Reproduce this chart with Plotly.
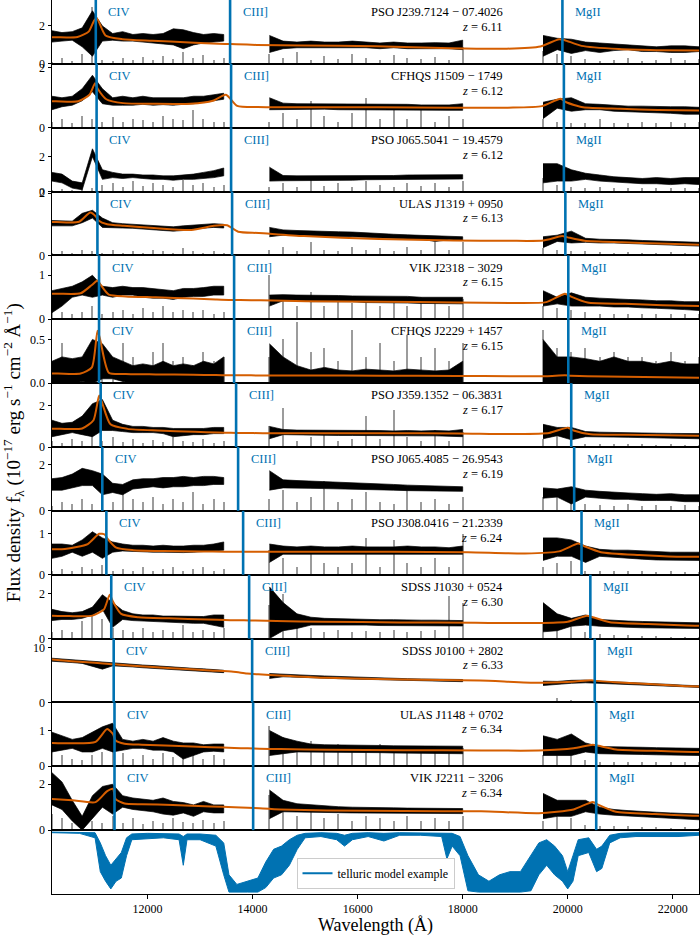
import plotly.graph_objects as go
from plotly.subplots import make_subplots

# quasar names and redshifts, top to bottom
NAMES = ["PSO J239.7124 − 07.4026", "CFHQS J1509 − 1749", "PSO J065.5041 − 19.4579",
         "ULAS J1319 + 0950", "VIK J2318 − 3029", "CFHQS J2229 + 1457",
         "PSO J359.1352 − 06.3831", "PSO J065.4085 − 26.9543", "PSO J308.0416 − 21.2339",
         "SDSS J1030 + 0524", "SDSS J0100 + 2802", "ULAS J1148 + 0702", "VIK J2211 − 3206"]
REDSHIFTS = [6.11, 6.12, 6.12, 6.13, 6.15, 6.15, 6.17, 6.19, 6.24, 6.30, 6.33, 6.34, 6.34]
YMAX = [3.37, 2.13, 3.66, 2.05, 1.45, 0.73, 3.1, 2.78, 1.56, 2.84, 11.7, 1.78, 2.78]
YTICKS = [[0, 2], [0, 2], [0, 2], [0, 2], [0, 1], [0, 0.5], [0, 2], [0, 2], [0, 1],
          [0, 2], [0, 10], [0, 1], [0, 2]]

# emission lines (rest frame, Angstrom)
LINE_NAMES = ["CIV", "CIII]", "MgII"]
LINE_REST = [1549.06, 1908.73, 2798.75]

# observed wavelength nodes of the three spectral windows (Angstrom)
GRID_A = [10180, 10370, 10565, 10755, 10950, 11140, 11335, 11525, 11720, 11910, 12105,
          12295, 12490, 12680, 12875, 13065, 13260, 13450]
GRID_B = [14320, 14580, 14845, 15110, 15370, 15635, 15900, 16160, 16425, 16685, 16950,
          17210, 17475, 17740, 18000]
GRID_C = [19530, 19800, 20070, 20340, 20610, 20880, 21150, 21420, 21690, 21960, 22230, 22500]

# lower / upper envelope of the observed flux in each window
LO_A = [
    [1.15, 1.2, 1.25, 0.9, 0.4, 1.2, 1.25, 1.2, 1.2, 1.15, 1.1, 1.05, 1.0, 0.8, 1.0, 1.1, 1.15, 1.2],
    [0.6, 0.7, 0.75, 0.9, 1.2, 0.8, 0.75, 0.75, 0.75, 0.78, 0.75, 0.77, 0.75, 0.78, 0.8, 0.85, 0.9, 0.95],
    [0.6, 0.5, 0.2, 0.1, 2.0, 0.7, 0.8, 0.75, 0.8, 0.75, 0.7, 0.7, 0.65, 0.7, 0.7, 0.75, 0.8, 0.9],
    [0.95, 0.95, 0.95, 1.05, 1.2, 0.9, 0.9, 0.88, 0.87, 0.85, 0.83, 0.8, 0.78, 0.8, 0.85, 0.88, 0.9, 0.88],
    [0.15, 0.3, 0.5, 0.55, 0.5, 0.55, 0.5, 0.55, 0.55, 0.5, 0.48, 0.48, 0.45, 0.5, 0.52, 0.52, 0.55, 0.55],
    [0.0, 0.0, 0.0, 0.02, 0.0, 0.05, 0.05, 0.02, 0.0, 0.0, 0.0, 0.0, 0.0, 0.0, 0.0, 0.0, 0.0, 0.0],
    [0.5, 0.6, 0.7, 0.6, 0.5, 0.8, 0.8, 0.75, 0.7, 0.7, 0.7, 0.65, 0.5, 0.55, 0.6, 0.6, 0.65, 0.65],
    [0.9, 0.9, 1.0, 1.1, 1.1, 0.7, 0.8, 0.7, 0.95, 1.0, 1.05, 1.0, 1.05, 1.05, 1.1, 1.1, 1.15, 1.15],
    [0.4, 0.45, 0.55, 0.45, 0.55, 0.4, 0.55, 0.58, 0.57, 0.56, 0.55, 0.55, 0.55, 0.54, 0.55, 0.56, 0.58, 0.6],
    [0.8, 0.85, 0.85, 0.9, 1.05, 1.3, 0.5, 0.85, 0.8, 0.78, 0.75, 0.72, 0.7, 0.7, 0.68, 0.68, 0.6, 0.5],
    [7.55, 7.45, 7.3, 7.15, 6.6, 6.1, 6.7, 6.6, 6.5, 6.35, 6.25, 6.1, 6.0, 5.9, 5.8, 5.65, 5.55, 5.45],
    [0.4, 0.45, 0.5, 0.4, 0.4, 0.5, 0.4, 0.45, 0.5, 0.5, 0.45, 0.45, 0.4, 0.2, 0.3, 0.4, 0.42, 0.4],
    [1.1, 0.9, 0.4, 0.0, 0.5, 1.0, 0.7, 1.0, 0.9, 0.85, 0.8, 0.7, 0.65, 0.75, 0.6, 0.8, 0.75, 0.75],
]
HI_A = [
    [1.75, 1.65, 1.7, 1.9, 2.8, 2.0, 1.6, 1.7, 1.55, 1.6, 1.55, 1.6, 1.85, 1.8, 1.65, 1.55, 1.6, 1.55],
    [1.05, 1.0, 1.05, 1.3, 1.75, 1.3, 1.0, 1.05, 1.0, 1.05, 1.0, 1.0, 1.0, 1.0, 1.05, 1.05, 1.1, 1.15],
    [1.1, 1.0, 0.6, 0.5, 2.45, 1.25, 1.1, 1.0, 1.0, 0.95, 0.95, 0.9, 0.9, 0.95, 1.0, 1.1, 1.2, 1.35],
    [1.12, 1.1, 1.1, 1.35, 1.45, 1.2, 1.05, 1.02, 1.0, 0.98, 0.96, 0.93, 0.92, 0.95, 0.98, 1.0, 1.02, 1.0],
    [0.65, 0.7, 0.75, 0.85, 1.0, 0.75, 0.72, 0.75, 0.72, 0.72, 0.7, 0.68, 0.65, 0.7, 0.7, 0.72, 0.75, 0.75],
    [0.25, 0.3, 0.28, 0.3, 0.5, 0.45, 0.3, 0.25, 0.2, 0.22, 0.2, 0.25, 0.2, 0.22, 0.2, 0.25, 0.22, 0.3],
    [1.3, 1.15, 1.2, 1.5, 2.1, 2.3, 1.3, 1.1, 1.0, 1.0, 0.95, 0.95, 0.9, 0.9, 0.9, 0.9, 0.95, 0.95],
    [1.4, 1.45, 1.6, 1.85, 1.75, 1.6, 1.2, 1.15, 1.35, 1.4, 1.4, 1.45, 1.45, 1.5, 1.45, 1.5, 1.5, 1.45],
    [0.75, 0.75, 0.72, 0.85, 1.05, 0.9, 0.8, 0.75, 0.72, 0.72, 0.7, 0.72, 0.7, 0.7, 0.72, 0.72, 0.75, 0.8],
    [1.3, 1.2, 1.15, 1.2, 1.4, 1.95, 1.6, 1.25, 1.1, 1.05, 1.05, 1.0, 1.0, 1.0, 0.98, 0.98, 1.05, 1.05],
    [8.1, 7.95, 7.8, 7.65, 7.55, 7.45, 7.25, 7.1, 7.0, 6.85, 6.75, 6.6, 6.5, 6.35, 6.25, 6.15, 6.0, 5.9],
    [0.95, 0.85, 0.75, 0.8, 0.95, 1.1, 1.2, 0.75, 0.7, 0.75, 0.7, 0.8, 0.7, 0.65, 0.65, 0.6, 0.62, 0.62],
    [2.5, 2.1, 1.3, 0.6, 1.5, 1.9, 2.0, 1.5, 1.4, 1.35, 1.3, 1.4, 1.25, 1.2, 1.1, 1.25, 1.1, 1.1],
]
LO_B = [
    [0.6, 0.8, 0.85, 0.85, 0.85, 0.85, 0.85, 0.85, 0.8, 0.85, 0.8, 0.8, 0.8, 0.8, 0.75],
    [0.6, 0.62, 0.62, 0.62, 0.62, 0.6, 0.6, 0.6, 0.6, 0.6, 0.6, 0.6, 0.58, 0.58, 0.58],
    [0.6, 0.62, 0.65, 0.65, 0.65, 0.65, 0.65, 0.68, 0.68, 0.68, 0.7, 0.7, 0.7, 0.72, 0.72],
    [0.6, 0.65, 0.64, 0.63, 0.62, 0.6, 0.6, 0.58, 0.56, 0.55, 0.53, 0.52, 0.45, 0.5, 0.48],
    [0.3, 0.42, 0.42, 0.4, 0.4, 0.4, 0.4, 0.38, 0.38, 0.37, 0.37, 0.36, 0.36, 0.35, 0.35],
    [0.0, 0.0, 0.0, 0.0, 0.0, 0.0, 0.0, 0.0, 0.0, 0.0, 0.0, 0.0, 0.0, 0.0, 0.0],
    [0.4, 0.6, 0.58, 0.58, 0.57, 0.56, 0.56, 0.55, 0.55, 0.55, 0.55, 0.54, 0.54, 0.53, 0.5],
    [0.9, 1.0, 1.0, 0.98, 0.97, 0.95, 0.95, 0.93, 0.92, 0.9, 0.88, 0.87, 0.86, 0.85, 0.85],
    [0.3, 0.5, 0.5, 0.5, 0.5, 0.5, 0.5, 0.5, 0.5, 0.5, 0.5, 0.5, 0.5, 0.5, 0.5],
    [0.0, 0.35, 0.45, 0.6, 0.6, 0.6, 0.6, 0.6, 0.58, 0.58, 0.58, 0.58, 0.58, 0.56, 0.56],
    [4.4, 4.7, 4.65, 4.55, 4.45, 4.35, 4.25, 4.15, 4.1, 4.05, 4.0, 3.95, 3.9, 3.85, 3.8],
    [0.3, 0.35, 0.4, 0.4, 0.4, 0.4, 0.38, 0.38, 0.38, 0.37, 0.37, 0.36, 0.36, 0.35, 0.35],
    [0.5, 0.8, 0.8, 0.78, 0.77, 0.76, 0.75, 0.75, 0.74, 0.74, 0.73, 0.73, 0.72, 0.72, 0.72],
]
HI_B = [
    [1.5, 1.2, 1.15, 1.2, 1.15, 1.15, 1.2, 1.15, 1.1, 1.15, 1.1, 1.1, 1.12, 1.1, 1.25],
    [1.0, 0.82, 0.8, 0.8, 0.8, 0.8, 0.78, 0.78, 0.78, 0.78, 0.78, 0.76, 0.76, 0.76, 0.8],
    [1.4, 0.92, 0.9, 0.9, 0.9, 0.88, 0.9, 0.9, 0.92, 0.92, 0.95, 0.95, 0.95, 0.97, 0.97],
    [0.9, 0.82, 0.8, 0.78, 0.78, 0.76, 0.75, 0.72, 0.7, 0.68, 0.66, 0.64, 0.62, 0.62, 0.6],
    [0.55, 0.56, 0.55, 0.55, 0.54, 0.54, 0.53, 0.53, 0.52, 0.52, 0.52, 0.5, 0.5, 0.5, 0.5],
    [0.45, 0.3, 0.2, 0.15, 0.18, 0.15, 0.14, 0.16, 0.15, 0.14, 0.16, 0.15, 0.14, 0.15, 0.25],
    [1.0, 0.85, 0.82, 0.82, 0.82, 0.8, 0.8, 0.8, 0.8, 0.78, 0.8, 0.78, 0.8, 0.78, 0.85],
    [1.75, 1.35, 1.32, 1.3, 1.28, 1.25, 1.22, 1.2, 1.18, 1.15, 1.12, 1.1, 1.08, 1.05, 1.05],
    [0.75, 0.7, 0.68, 0.7, 0.68, 0.68, 0.7, 0.68, 0.68, 0.68, 0.7, 0.68, 0.68, 0.66, 0.7],
    [2.3, 1.6, 1.1, 0.95, 0.9, 0.88, 0.85, 0.85, 0.84, 0.84, 0.82, 0.82, 0.82, 0.8, 0.8],
    [5.3, 5.15, 5.05, 4.95, 4.85, 4.75, 4.65, 4.55, 4.45, 4.4, 4.35, 4.3, 4.25, 4.2, 4.2],
    [1.0, 0.8, 0.7, 0.62, 0.6, 0.6, 0.58, 0.58, 0.58, 0.57, 0.57, 0.56, 0.56, 0.56, 0.56],
    [1.75, 1.3, 1.15, 1.1, 1.05, 1.02, 1.0, 1.0, 0.98, 0.97, 0.96, 0.95, 0.95, 0.94, 0.94],
]
LO_C = [
    [0.4, 0.75, 0.55, 0.7, 0.6, 0.7, 0.75, 0.65, 0.65, 0.6, 0.6, 0.65],
    [0.3, 0.65, 0.55, 0.6, 0.6, 0.55, 0.55, 0.52, 0.5, 0.48, 0.45, 0.45],
    [0.5, 0.6, 0.6, 0.7, 0.6, 0.55, 0.5, 0.45, 0.45, 0.4, 0.45, 0.4],
    [0.25, 0.45, 0.4, 0.42, 0.4, 0.4, 0.38, 0.36, 0.35, 0.33, 0.32, 0.3],
    [0.3, 0.35, 0.3, 0.3, 0.3, 0.28, 0.28, 0.26, 0.25, 0.24, 0.22, 0.2],
    [0.0, 0.0, 0.0, 0.0, 0.0, 0.0, 0.0, 0.0, 0.0, 0.0, 0.0, 0.0],
    [0.4, 0.55, 0.35, 0.5, 0.5, 0.48, 0.47, 0.46, 0.45, 0.43, 0.42, 0.4],
    [0.55, 0.6, 0.3, 0.6, 0.55, 0.5, 0.5, 0.45, 0.45, 0.45, 0.4, 0.4],
    [0.35, 0.45, 0.45, 0.3, 0.45, 0.42, 0.4, 0.38, 0.36, 0.35, 0.35, 0.35],
    [0.3, 0.35, 0.55, 0.6, 0.55, 0.52, 0.5, 0.48, 0.47, 0.46, 0.45, 0.45],
    [3.1, 3.3, 3.5, 3.6, 3.5, 3.4, 3.3, 3.2, 3.05, 2.95, 2.85, 2.75],
    [0.3, 0.3, 0.3, 0.4, 0.35, 0.35, 0.34, 0.33, 0.32, 0.31, 0.3, 0.3],
    [0.5, 0.6, 0.6, 0.8, 0.7, 0.65, 0.6, 0.58, 0.55, 0.5, 0.48, 0.45],
]
HI_C = [
    [1.5, 1.35, 1.3, 1.15, 1.1, 1.05, 1.0, 0.95, 0.9, 0.95, 0.95, 0.9],
    [0.85, 0.95, 1.0, 0.8, 0.78, 0.75, 0.72, 0.72, 0.7, 0.7, 0.7, 0.68],
    [1.6, 1.6, 1.25, 1.05, 0.95, 0.85, 0.8, 0.75, 0.8, 0.75, 0.8, 0.8],
    [0.6, 0.65, 0.78, 0.55, 0.52, 0.52, 0.5, 0.48, 0.46, 0.45, 0.44, 0.42],
    [0.65, 0.5, 0.6, 0.5, 0.48, 0.46, 0.45, 0.44, 0.42, 0.42, 0.4, 0.4],
    [0.5, 0.3, 0.3, 0.28, 0.25, 0.3, 0.25, 0.25, 0.22, 0.25, 0.22, 0.22],
    [1.1, 0.95, 0.95, 0.75, 0.72, 0.7, 0.7, 0.68, 0.67, 0.66, 0.65, 0.65],
    [1.0, 0.95, 1.05, 0.9, 0.85, 0.8, 0.78, 0.75, 0.72, 0.75, 0.7, 0.7],
    [0.9, 0.9, 0.85, 0.7, 0.62, 0.6, 0.6, 0.58, 0.56, 0.55, 0.55, 0.55],
    [1.6, 1.1, 0.9, 1.05, 0.85, 0.8, 0.78, 0.76, 0.75, 0.72, 0.7, 0.7],
    [3.9, 3.85, 4.05, 4.1, 3.9, 3.8, 3.7, 3.55, 3.4, 3.3, 3.15, 3.05],
    [0.85, 0.75, 0.9, 0.65, 0.55, 0.55, 0.54, 0.53, 0.52, 0.51, 0.5, 0.5],
    [1.6, 1.3, 1.3, 1.3, 1.0, 0.9, 0.85, 0.8, 0.78, 0.75, 0.72, 0.7],
]

# flux uncertainty (grey)
ERR_A = [
    [0.1, 0.3, 0.15, 0.5, 3.0, 0.2, 0.15, 0.3, 0.2, 0.35, 0.2, 0.4, 0.25, 0.6, 0.3, 0.45, 0.2, 0.3],
    [0.2, 0.3, 0.15, 0.4, 0.3, 0.2, 0.35, 0.2, 0.3, 0.25, 0.2, 0.4, 0.3, 0.25, 0.6, 0.3, 0.2, 0.2],
    [0.1, 0.15, 0.1, 0.3, 0.2, 0.4, 0.5, 0.3, 0.6, 0.35, 0.5, 0.4, 0.3, 0.7, 0.4, 0.5, 0.3, 0.4],
    [0.1, 0.15, 0.1, 0.2, 0.15, 0.1, 0.2, 0.1, 0.15, 0.1, 0.2, 0.15, 0.1, 0.25, 0.15, 0.1, 0.15, 0.1],
    [0.25, 0.15, 0.1, 0.15, 0.3, 0.1, 0.15, 0.2, 0.1, 0.25, 0.15, 0.3, 0.15, 0.2, 0.15, 0.2, 0.1, 0.15],
    [0.2, 0.45, 0.25, 0.3, 0.2, 0.35, 0.25, 0.45, 0.3, 0.2, 0.35, 0.45, 0.25, 0.3, 0.2, 0.35, 0.25, 0.3],
    [0.3, 0.2, 0.4, 0.3, 0.8, 0.3, 0.5, 0.25, 0.4, 0.2, 0.35, 0.25, 0.5, 0.3, 0.25, 0.4, 0.2, 0.3],
    [0.2, 0.4, 0.3, 0.5, 0.3, 0.6, 0.4, 0.9, 0.5, 0.4, 0.6, 0.3, 0.5, 0.4, 0.8, 0.3, 0.5, 0.4],
    [0.1, 0.15, 0.1, 0.2, 0.15, 0.25, 0.1, 0.15, 0.1, 0.2, 0.1, 0.15, 0.2, 0.1, 0.15, 0.2, 0.1, 0.15],
    [0.3, 0.4, 0.3, 0.8, 1.2, 0.9, 0.5, 0.4, 0.3, 0.5, 0.3, 0.4, 0.3, 0.6, 0.3, 0.4, 0.3, 0.5],
    [0.2, 0.1, 0.15, 0.1, 0.2, 0.15, 0.1, 0.15, 0.1, 0.2, 0.1, 0.15, 0.1, 0.15, 0.1, 0.2, 0.1, 0.15],
    [0.45, 0.3, 0.2, 0.15, 0.3, 0.4, 0.5, 0.35, 0.2, 0.3, 0.2, 0.35, 0.25, 0.4, 0.3, 0.2, 0.3, 0.2],
    [0.7, 0.5, 0.3, 0.2, 0.4, 0.3, 0.6, 0.3, 0.5, 0.25, 0.4, 0.3, 0.5, 0.35, 0.3, 0.45, 0.3, 0.4],
]
ERR_B = [
    [0.5, 0.3, 0.6, 0.2, 0.4, 0.25, 0.5, 0.3, 0.2, 0.45, 0.3, 0.25, 0.35, 0.2, 0.9],
    [0.2, 0.5, 0.3, 0.9, 0.4, 0.2, 0.5, 1.0, 0.3, 0.6, 0.3, 0.65, 0.2, 0.4, 0.3],
    [0.3, 0.5, 0.3, 0.7, 0.35, 0.5, 0.3, 0.6, 0.4, 0.3, 0.5, 0.35, 0.5, 0.3, 0.6],
    [0.2, 0.3, 0.15, 0.45, 0.2, 0.15, 0.3, 0.2, 0.25, 0.15, 0.3, 0.2, 0.45, 0.2, 0.45],
    [1.0, 0.4, 0.3, 0.6, 0.3, 0.5, 0.35, 0.4, 0.3, 0.45, 0.3, 0.5, 0.4, 0.3, 0.45],
    [0.3, 0.5, 0.7, 0.35, 0.4, 0.25, 0.6, 0.3, 0.45, 0.25, 0.55, 0.3, 0.4, 0.25, 0.45],
    [1.0, 1.9, 0.3, 0.5, 0.6, 0.3, 0.4, 1.5, 0.4, 1.8, 0.5, 0.3, 0.8, 0.3, 0.7],
    [0.5, 0.9, 0.4, 0.6, 1.3, 0.4, 0.5, 0.8, 0.4, 0.3, 0.9, 0.4, 0.5, 0.3, 0.6],
    [0.6, 0.4, 0.2, 0.5, 0.3, 0.2, 0.3, 0.9, 0.2, 0.85, 0.3, 0.2, 0.4, 0.2, 1.0],
    [1.5, 2.0, 0.9, 0.5, 0.3, 0.4, 0.3, 0.35, 0.3, 0.4, 0.3, 0.35, 0.4, 1.9, 1.6],
    [0.3, 0.15, 0.2, 0.15, 0.25, 0.15, 0.2, 0.15, 0.2, 0.15, 0.2, 0.15, 0.2, 0.15, 0.3],
    [1.1, 0.8, 0.5, 0.7, 0.4, 0.6, 0.5, 0.45, 0.6, 0.4, 0.5, 0.4, 0.55, 0.35, 0.5],
    [1.5, 0.9, 0.6, 1.0, 0.5, 0.7, 0.4, 0.6, 0.5, 0.4, 0.6, 0.4, 0.5, 0.4, 0.6],
]
ERR_C = [
    [0.7, 0.5, 0.4, 0.25, 0.15, 0.2, 0.3, 0.15, 0.2, 0.3, 0.2, 0.25],
    [0.3, 0.2, 0.15, 0.15, 0.3, 0.15, 0.15, 0.2, 0.15, 0.2, 0.15, 0.2],
    [0.8, 0.4, 0.3, 0.2, 0.3, 0.2, 0.2, 0.25, 0.2, 0.25, 0.2, 0.25],
    [0.25, 0.2, 0.15, 0.15, 0.12, 0.1, 0.12, 0.1, 0.1, 0.12, 0.1, 0.1],
    [0.3, 0.25, 0.2, 0.15, 0.12, 0.12, 0.1, 0.12, 0.1, 0.1, 0.12, 0.1],
    [0.6, 0.4, 0.35, 0.4, 0.3, 0.35, 0.3, 0.3, 0.25, 0.35, 0.25, 0.3],
    [0.4, 0.6, 0.3, 0.15, 0.15, 0.12, 0.12, 0.12, 0.1, 0.12, 0.1, 0.1],
    [0.6, 0.8, 0.5, 0.3, 0.25, 0.2, 0.3, 0.2, 0.25, 0.2, 0.25, 0.2],
    [0.2, 0.3, 0.35, 0.1, 0.1, 0.1, 0.1, 0.1, 0.08, 0.1, 0.08, 0.08],
    [0.7, 0.9, 0.6, 0.3, 0.2, 0.15, 0.15, 0.12, 0.12, 0.1, 0.1, 0.1],
    [0.4, 0.8, 0.6, 0.2, 0.15, 0.15, 0.15, 0.1, 0.1, 0.1, 0.1, 0.1],
    [0.3, 0.35, 0.85, 0.15, 0.12, 0.12, 0.1, 0.12, 0.1, 0.12, 0.1, 0.1],
    [0.4, 0.6, 0.5, 0.2, 0.15, 0.15, 0.15, 0.12, 0.12, 0.1, 0.12, 0.1],
]

# quasar model fits (orange), on rest-frame wavelength nodes
REST_GRID = [1380, 1440, 1500, 1530, 1545, 1552, 1575, 1620, 1700, 1800, 1860, 1895, 1925,
             1980, 2100, 2300, 2500, 2650, 2740, 2790, 2805, 2850, 2950, 3050, 3170]
MODEL = [
    [1.40, 1.40, 1.42, 1.7, 2.3, 2.4, 1.5, 1.3, 1.22, 1.13, 1.08, 1.05, 1.04, 1.0, 0.97, 0.93, 0.82, 0.8, 0.92, 1.3, 1.25, 0.95, 0.78, 0.72, 0.70],
    [0.88, 0.88, 0.88, 1.1, 1.48, 1.3, 0.95, 0.82, 0.8, 0.8, 0.9, 1.1, 0.73, 0.69, 0.68, 0.68, 0.67, 0.67, 0.72, 0.97, 0.85, 0.68, 0.63, 0.59, 0.57],
    None,
    [1.07, 1.07, 1.08, 1.38, 1.25, 1.12, 1.0, 0.95, 0.88, 0.82, 0.95, 0.97, 0.76, 0.72, 0.62, 0.53, 0.48, 0.47, 0.48, 0.62, 0.58, 0.47, 0.42, 0.38, 0.34],
    [0.58, 0.58, 0.59, 0.78, 0.88, 0.8, 0.56, 0.52, 0.5, 0.47, 0.45, 0.44, 0.44, 0.43, 0.41, 0.40, 0.38, 0.37, 0.39, 0.58, 0.52, 0.38, 0.35, 0.32, 0.30],
    [0.11, 0.11, 0.11, 0.18, 0.6, 0.5, 0.12, 0.105, 0.1, 0.095, 0.092, 0.09, 0.09, 0.088, 0.087, 0.085, 0.082, 0.08, 0.08, 0.09, 0.085, 0.078, 0.072, 0.066, 0.06],
    [0.88, 0.88, 0.9, 1.3, 2.5, 2.2, 1.1, 0.88, 0.8, 0.74, 0.7, 0.69, 0.68, 0.67, 0.67, 0.67, 0.66, 0.63, 0.68, 0.94, 0.8, 0.62, 0.6, 0.57, 0.54],
    None,
    [0.63, 0.63, 0.75, 1.0, 0.98, 0.88, 0.66, 0.6, 0.58, 0.57, 0.56, 0.56, 0.56, 0.56, 0.56, 0.56, 0.55, 0.52, 0.57, 0.76, 0.7, 0.55, 0.48, 0.44, 0.44],
    [1.02, 1.0, 1.02, 1.3, 1.95, 1.7, 1.1, 0.95, 0.9, 0.85, 0.82, 0.81, 0.8, 0.78, 0.75, 0.72, 0.7, 0.69, 0.75, 1.02, 0.95, 0.73, 0.65, 0.58, 0.55],
    [7.9, 7.55, 7.25, 7.1, 7.0, 6.98, 6.85, 6.62, 6.27, 5.85, 5.6, 5.3, 5.15, 4.95, 4.5, 4.2, 4.0, 3.6, 3.8, 4.05, 3.95, 3.7, 3.35, 2.95, 2.8],
    [0.65, 0.64, 0.68, 1.04, 0.9, 0.72, 0.63, 0.6, 0.57, 0.53, 0.51, 0.5, 0.49, 0.48, 0.46, 0.45, 0.44, 0.44, 0.5, 0.6, 0.57, 0.47, 0.43, 0.4, 0.37],
    [1.36, 1.3, 1.22, 1.7, 1.8, 1.35, 1.16, 1.13, 1.1, 1.03, 1.0, 0.98, 0.95, 0.9, 0.86, 0.83, 0.82, 0.74, 0.9, 1.23, 1.1, 0.8, 0.7, 0.63, 0.58],
]

# telluric transmission example (bottom panel)
TELL_WL = [10180, 10700, 11000, 11100, 11200, 11300, 11400, 11500, 11600, 11700, 12000, 12300,
           12600, 12680, 12750, 13000, 13300, 13450, 13550, 13700, 13900, 14100, 14250, 14400,
           14550, 14700, 14850, 15000, 15300, 15600, 15750, 15900, 16200, 16500, 16800, 17200,
           17600, 17700, 17800, 17950, 18100, 18300, 18500, 18700, 18900, 19100, 19300, 19450,
           19600, 19750, 19900, 20000, 20100, 20200, 20400, 20550, 20650, 20800, 21000, 21300,
           21700, 22100, 22500]
TELL_LO = [0.96, 0.95, 0.88, 0.35, 0.2, 0.08, 0.2, 0.25, 0.6, 0.85, 0.86, 0.88,
           0.85, 0.45, 0.85, 0.85, 0.75, 0.3, 0.03, 0.03, 0.03, 0.03, 0.1, 0.25,
           0.3, 0.45, 0.7, 0.88, 0.9, 0.85, 0.75, 0.85, 0.9, 0.83, 0.92, 0.92,
           0.9, 0.55, 0.75, 0.6, 0.05, 0.03, 0.03, 0.03, 0.03, 0.03, 0.05, 0.3,
           0.45, 0.3, 0.2, 0.08, 0.2, 0.6, 0.65, 0.35, 0.4, 0.8, 0.88, 0.9,
           0.9, 0.9, 0.92]
TELL_HI = [0.97, 0.97, 0.96, 0.8, 0.6, 0.45, 0.55, 0.65, 0.88, 0.94, 0.95, 0.95,
           0.94, 0.9, 0.94, 0.94, 0.92, 0.8, 0.3, 0.15, 0.2, 0.25, 0.5, 0.7,
           0.75, 0.85, 0.92, 0.95, 0.96, 0.95, 0.92, 0.95, 0.96, 0.95, 0.96, 0.96,
           0.96, 0.95, 0.95, 0.9, 0.6, 0.3, 0.2, 0.3, 0.35, 0.35, 0.6, 0.8,
           0.85, 0.75, 0.6, 0.35, 0.6, 0.85, 0.88, 0.7, 0.75, 0.92, 0.95, 0.96,
           0.96, 0.96, 0.96]

BLUE = "#0072b2"
ORANGE = "#d55e00"
GREY = "#9c9c9c"
FONT = "Liberation Serif"

n = len(NAMES)
fig = make_subplots(rows=n + 1, cols=1, shared_xaxes=True, vertical_spacing=0)

for i in range(n):
    row = i + 1
    z = REDSHIFTS[i]
    sfx = "" if row == 1 else str(row)

    # observed spectrum: one closed band per window
    xs, ys = [], []
    for grid, lo, hi in ((GRID_A, LO_A[i], HI_A[i]), (GRID_B, LO_B[i], HI_B[i]),
                         (GRID_C, LO_C[i], HI_C[i])):
        xs += grid + grid[::-1] + [None]
        ys += hi + lo[::-1] + [None]
    fig.add_trace(go.Scatter(x=xs, y=ys, mode="lines", fill="toself", fillcolor="black",
                             line=dict(color="black", width=0.7),
                             hoverinfo="skip", showlegend=False), row=row, col=1)

    fig.add_trace(go.Bar(x=GRID_A + GRID_B + GRID_C, y=ERR_A[i] + ERR_B[i] + ERR_C[i],
                         width=22, marker=dict(color=GREY, line=dict(width=0)),
                         hoverinfo="skip", showlegend=False), row=row, col=1)

    if MODEL[i] is not None:
        fig.add_trace(go.Scatter(x=[r * (1 + z) for r in REST_GRID], y=MODEL[i], mode="lines",
                                 line=dict(color=ORANGE, width=2, shape="spline", smoothing=0.6),
                                 hoverinfo="skip", showlegend=False), row=row, col=1)

    for lname, lrest in zip(LINE_NAMES, LINE_REST):
        wl = lrest * (1 + z)
        fig.add_shape(type="line", xref="x" + sfx, yref="y" + sfx + " domain",
                      x0=wl, x1=wl, y0=0, y1=1, line=dict(color=BLUE, width=2.6))
        fig.add_annotation(x=wl + 200, y=0.81, xref="x" + sfx, yref="y" + sfx + " domain",
                           text=lname, showarrow=False, xanchor="left", yanchor="middle",
                           font=dict(color=BLUE, size=12.5, family=FONT))

    fig.add_annotation(x=18810, y=0.81, xref="x" + sfx, yref="y" + sfx + " domain",
                       text=NAMES[i], showarrow=False, xanchor="right", yanchor="middle",
                       font=dict(color="black", size=12.5, family=FONT))
    fig.add_annotation(x=18810, y=0.58, xref="x" + sfx, yref="y" + sfx + " domain",
                       text="<i>z</i> = %.2f" % z, showarrow=False, xanchor="right",
                       yanchor="middle", font=dict(color="black", size=12.5, family=FONT))

    fig.update_yaxes(range=[0, YMAX[i]], tickvals=YTICKS[i],
                     tickformat=".1f" if YTICKS[i][1] < 1 else "d", row=row, col=1)

# telluric panel
fig.add_trace(go.Scatter(x=TELL_WL + TELL_WL[::-1], y=TELL_HI + TELL_LO[::-1], mode="lines",
                         fill="toself", fillcolor=BLUE, line=dict(color=BLUE, width=1),
                         hoverinfo="skip", showlegend=False), row=n + 1, col=1)
fig.add_trace(go.Scatter(x=[None], y=[None], mode="lines", line=dict(color=BLUE, width=2),
                         name="telluric model example"), row=n + 1, col=1)

fig.update_xaxes(range=[10180, 22500], showline=True, mirror=True, linecolor="black",
                 linewidth=1, showgrid=False, zeroline=False, ticks="", automargin=False)
fig.update_xaxes(ticks="outside", ticklen=4, tickcolor="black", tickformat="d",
                 tickvals=[12000, 14000, 16000, 18000, 20000, 22000],
                 tickfont=dict(size=12, family=FONT, color="black"), row=n + 1, col=1)
fig.update_yaxes(showline=True, mirror=True, linecolor="black", linewidth=1, showgrid=False,
                 zeroline=False, ticks="outside", ticklen=3.5, tickcolor="black",
                 automargin=False, tickfont=dict(size=12, family=FONT, color="black"))
fig.update_yaxes(range=[0, 1.0], showticklabels=False, ticks="", row=n + 1, col=1)

fig.add_annotation(x=0.5, y=-0.035, xref="paper", yref="paper", text="Wavelength (Å)",
                   showarrow=False, xanchor="center", yanchor="middle",
                   font=dict(size=18, family=FONT, color="black"))
fig.add_annotation(x=-0.059, y=0.494, xref="paper", yref="paper", textangle=-90,
                   text="Flux density f<sub>λ</sub> (10<sup>−17</sup> erg s<sup>−1</sup> "
                        "cm<sup>−2</sup> Å<sup>−1</sup>)",
                   showarrow=False, xanchor="center", yanchor="middle",
                   font=dict(size=19, family=FONT, color="black"))

fig.update_layout(
    width=700, height=937,
    margin=dict(l=52, r=1, t=0, b=43, autoexpand=False),
    plot_bgcolor="white", paper_bgcolor="white",
    font=dict(family=FONT, color="black"),
    showlegend=True,
    legend=dict(x=0.5, y=0.006, xanchor="center", yanchor="bottom", bgcolor="white",
                bordercolor="#cccccc", borderwidth=1, font=dict(size=12, family=FONT),
                itemwidth=30),
    bargap=0,
)

# the page's default body margin would shift the figure; drop it
fig.write_html("out.html", config={"displayModeBar": False},
               post_script="document.body.style.margin = '0';")
